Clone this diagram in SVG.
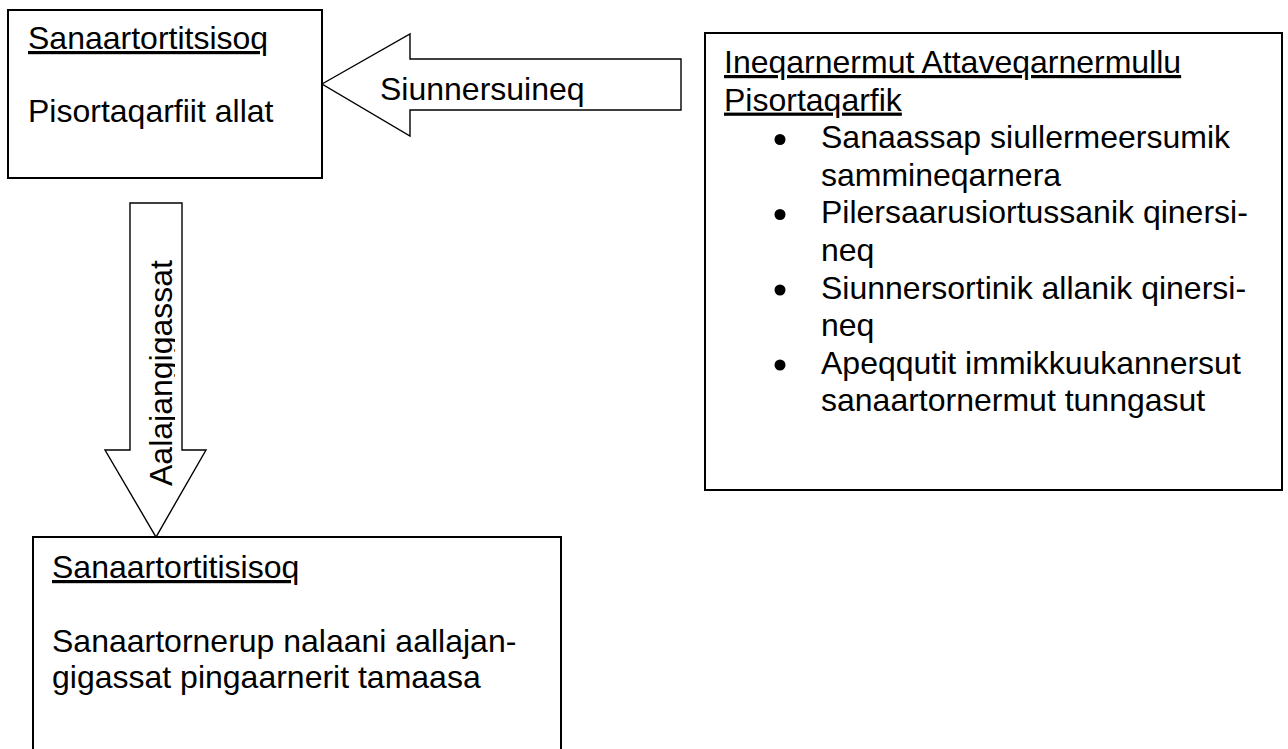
<svg xmlns="http://www.w3.org/2000/svg" width="1288" height="749" viewBox="0 0 1288 749">
  <style>
    .box { fill: #ffffff; stroke: #000000; stroke-width: 2; }
    .arrow { fill: #ffffff; stroke: #000000; stroke-width: 1.4; stroke-linejoin: miter; }
    .t { font-family: "Liberation Sans", Arial, sans-serif; font-size: 32px; fill: #000000; }
    .u { text-decoration: underline; }
    .bullet { fill: #000000; }
  </style>
  <defs>
    <clipPath id="shaftClip">
      <rect x="131" y="204" width="44" height="332"/>
    </clipPath>
  </defs>
  <rect x="0" y="0" width="1288" height="749" fill="#ffffff"/>

  <g id="connectors">
    <g id="arrow-siunnersuineq">
      <polygon class="arrow" points="322,84 410,34 410,59 681,59 681,110 410,110 410,136"/>
      <text class="t" x="380" y="100">Siunnersuineq</text>
    </g>
    <g id="arrow-aalajangigassat">
      <polygon class="arrow" points="130,203 182,203 182,450 206,450 156,537 105,450 130,450"/>
      <g clip-path="url(#shaftClip)">
        <text class="t" transform="translate(172,486) rotate(-90)" x="0" y="0">Aalajangigassat</text>
      </g>
    </g>
  </g>

  <g id="node-top-left">
    <rect class="box" x="8" y="10" width="314" height="168"/>
    <text class="t u" x="28" y="49">Sanaartortitsisoq</text>
    <text class="t" x="28" y="122">Pisortaqarfiit allat</text>
  </g>

  <g id="node-right">
    <rect class="box" x="705" y="33" width="577" height="457"/>
    <text class="t u" x="724" y="73">Ineqarnermut Attaveqarnermullu</text>
    <text class="t u" x="724" y="110.6">Pisortaqarfik</text>
    <circle class="bullet" cx="780" cy="139.5" r="5.5"/>
    <text class="t" x="821" y="148.2">Sanaassap siullermeersumik</text>
    <text class="t" x="821" y="185.8">sammineqarnera</text>
    <circle class="bullet" cx="780" cy="214.5" r="5.5"/>
    <text class="t" x="821" y="223.4">Pilersaarusiortussanik qinersi-</text>
    <text class="t" x="821" y="261">neq</text>
    <circle class="bullet" cx="780" cy="290" r="5.5"/>
    <text class="t" x="821" y="298.6">Siunnersortinik allanik qinersi-</text>
    <text class="t" x="821" y="336.2">neq</text>
    <circle class="bullet" cx="780" cy="365" r="5.5"/>
    <text class="t" x="821" y="373.8">Apeqqutit immikkuukannersut</text>
    <text class="t" x="821" y="411.4">sanaartornermut tunngasut</text>
  </g>

  <g id="node-bottom">
    <rect class="box" x="33" y="537" width="528" height="260"/>
    <text class="t u" x="52" y="578">Sanaartortitisisoq</text>
    <text class="t" x="52" y="651.5">Sanaartornerup nalaani aallajan-</text>
    <text class="t" x="52" y="688">gigassat pingaarnerit tamaasa</text>
  </g>
</svg>
